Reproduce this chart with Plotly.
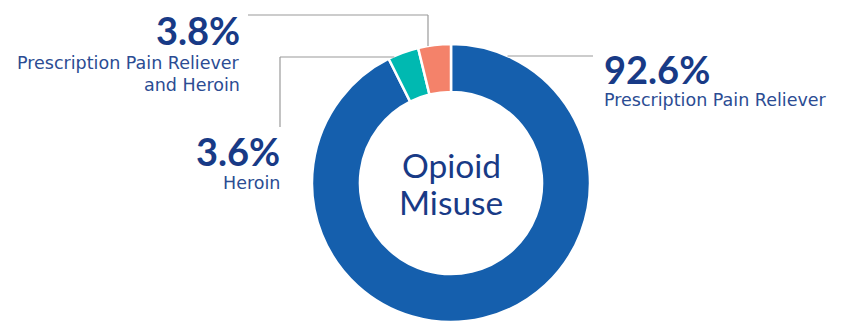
import math
import plotly.graph_objects as go

# Share of people misusing opioids, by type
categories = ["Prescription Pain Reliever", "Heroin", "Prescription Pain Reliever and Heroin"]
shares = [92.6, 3.6, 3.8]
label_lines = [["Prescription Pain Reliever"], ["Heroin"], ["Prescription Pain Reliever", "and Heroin"]]
colors = ["#155FAD", "#00B9B1", "#F4826A"]

W, H = 841, 322
CX, CY, R = 451, 183, 139   # donut centre / outer radius, in pixels from top-left
HOLE = 0.655

NAVY = "#183A86"
LABEL = "#2B4C93"
LINE = "#9A9A9A"
NUM_FONT = "Lato"
LABEL_FONT = "DejaVu Sans"


def px(x):
    return x / W


def py(y):
    return 1 - y / H


fig = go.Figure(go.Pie(
    labels=categories,
    values=shares,
    sort=False,
    direction="clockwise",
    rotation=0,
    hole=HOLE,
    marker=dict(colors=colors, line=dict(color="white", width=2.5)),
    textinfo="none",
    hoverinfo="skip",
    showlegend=False,
    domain=dict(x=[px(CX - R), px(CX + R)], y=[py(CY + R), py(CY - R)]),
))


def ring_point_at_x(x):
    """Top edge of the outer ring at a given pixel x."""
    return CY - math.sqrt(R ** 2 - (x - CX) ** 2)


def ring_point_at_y(y, side):
    """Outer ring edge at a given pixel y, on the left (-1) or right (+1)."""
    return CX + side * math.sqrt(R ** 2 - (CY - y) ** 2)


shapes = []


def seg(x0, y0, x1, y1):
    shapes.append(dict(type="line", xref="paper", yref="paper",
                       x0=px(x0), y0=py(y0), x1=px(x1), y1=py(y1),
                       line=dict(color=LINE, width=1.2)))


# 92.6% leader: right from the blue slice
seg(ring_point_at_y(56, 1), 56, 593, 56)
# 3.8% leader: down onto the salmon slice
seg(248, 15, 428, 15)
seg(428, 15, 428, ring_point_at_x(428))
# 3.6% leader: from the teal slice, left then down
seg(ring_point_at_y(57, -1) + 2, 57, 280, 57)
seg(280, 57, 280, 127)

annotations = []


def text(x, y, s, size, color, anchor, family, bold=False):
    annotations.append(dict(
        xref="paper", yref="paper", x=px(x), y=py(y), text=s,
        showarrow=False, xanchor=anchor, yanchor="middle",
        font=dict(family=family, size=size, color=color, weight=700 if bold else 400),
    ))


pct = [f"{v:.1f}%" for v in shares]

# Prescription Pain Reliever (right side)
text(602, 69, pct[0], 38, NAVY, "left", NUM_FONT, bold=True)
text(602, 100, label_lines[0][0], 17.5, LABEL, "left", LABEL_FONT)
# Heroin (left)
text(282, 151, pct[1], 38, NAVY, "right", NUM_FONT, bold=True)
text(282, 183, label_lines[1][0], 17.5, LABEL, "right", LABEL_FONT)
# Both (upper left)
text(242, 30, pct[2], 38, NAVY, "right", NUM_FONT, bold=True)
text(242, 63, label_lines[2][0], 17.5, LABEL, "right", LABEL_FONT)
text(242, 85, label_lines[2][1], 17.5, LABEL, "right", LABEL_FONT)

# Centre title
text(CX, 165, "Opioid", 33.5, NAVY, "center", NUM_FONT)
text(CX, 202, "Misuse", 33.5, NAVY, "center", NUM_FONT)

fig.update_layout(
    width=W, height=H,
    margin=dict(l=0, r=0, t=0, b=0),
    paper_bgcolor="white", plot_bgcolor="white",
    shapes=shapes, annotations=annotations,
)

fig.write_html("out.html")
